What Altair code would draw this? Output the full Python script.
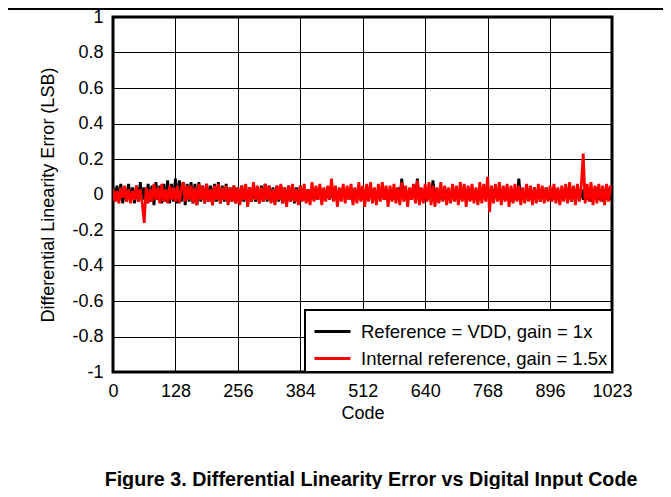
import altair as alt
import pandas as pd

# ---------------- data ----------------
codes = list(range(0, 1024, 4))

ref_vdd = [
    0.04, -0.04, 0.05, -0.03, 0.06, -0.05, 0.04, -0.04, 0.06, -0.03, 0.04, -0.05, 0.05, -0.04, 0.07, -0.03,
    0.04, -0.05, 0.06, -0.04, 0.05, -0.06, 0.07, -0.03, 0.05, -0.05, 0.06, -0.04, 0.08, -0.05, 0.06, -0.04,
    0.09, -0.05, 0.08, -0.04, 0.07, -0.06, 0.06, -0.04, 0.07, -0.05, 0.06, -0.06, 0.07, -0.04, 0.05, -0.05,
    0.06, -0.04, 0.05, -0.06, 0.06, -0.04, 0.07, -0.05, 0.05, -0.04, 0.06, -0.05, 0.04, -0.04, 0.05, -0.05,
    0.04, -0.05, 0.05, -0.04, 0.05, -0.06, 0.04, -0.04, 0.05, -0.04, 0.04, -0.05, 0.05, -0.04, 0.06, -0.04,
    0.05, -0.04, 0.04, -0.05, 0.05, -0.04, 0.05, -0.05, 0.04, -0.05, 0.05, -0.04, 0.05, -0.05, 0.04, -0.05,
    0.05, -0.03, 0.03, -0.04, 0.03, -0.03, 0.04, -0.03, 0.03, -0.03, 0.04, -0.04, 0.03, -0.03, 0.03, -0.03,
    0.04, -0.03, 0.03, -0.04, 0.03, -0.03, 0.04, -0.03, 0.03, -0.03, 0.04, -0.04, 0.03, -0.03, 0.04, -0.03,
    0.03, -0.04, 0.03, -0.03, 0.04, -0.03, 0.03, -0.04, 0.03, -0.03, 0.04, -0.03, 0.03, -0.04, 0.03, -0.03,
    0.03, -0.03, 0.04, -0.03, 0.09, -0.03, 0.03, -0.04, 0.03, -0.03, 0.04, -0.03, 0.09, -0.04, 0.03, -0.03,
    0.03, -0.03, 0.04, -0.03, 0.08, -0.03, 0.03, -0.04, 0.03, -0.03, 0.04, -0.03, 0.03, -0.04, 0.03, -0.03,
    0.03, -0.04, 0.03, -0.03, 0.04, -0.03, 0.03, -0.03, 0.04, -0.03, 0.03, -0.04, 0.03, -0.03, 0.04, -0.03,
    0.04, -0.03, 0.03, -0.03, 0.04, -0.03, 0.03, -0.04, 0.03, -0.03, 0.04, -0.03, 0.03, -0.04, 0.03, -0.03,
    0.09, -0.03, 0.03, -0.04, 0.04, -0.03, 0.03, -0.03, 0.04, -0.03, 0.03, -0.04, 0.03, -0.03, 0.04, -0.03,
    0.03, -0.03, 0.04, -0.03, 0.03, -0.04, 0.03, -0.03, 0.04, -0.03, 0.03, -0.04, 0.03, -0.03, 0.04, -0.03,
    0.03, -0.03, 0.04, -0.03, 0.03, -0.04, 0.03, -0.03, 0.04, -0.03, 0.03, -0.04, 0.03, -0.03, 0.04, -0.03,
]

internal_ref = [
    0.03, -0.04, 0.02, -0.05, 0.04, -0.02, 0.05, -0.04, 0.03, -0.05, 0.02, -0.03, 0.05, -0.04, 0.03, -0.05,
    -0.16, 0.04, -0.05, 0.03, -0.04, 0.06, -0.03, 0.04, -0.05, 0.06, -0.04, 0.03, -0.05, 0.05, -0.03, 0.04,
    -0.04, 0.05, -0.05, 0.03, 0.07, -0.04, 0.05, -0.03, 0.05, -0.05, 0.04, -0.06, 0.06, -0.03, 0.05, -0.05,
    0.06, -0.04, 0.03, -0.06, 0.05, -0.03, 0.06, -0.05, 0.04, -0.03, 0.05, -0.06, 0.04, -0.04, 0.05, -0.05,
    0.04, -0.06, 0.05, -0.03, 0.06, -0.07, 0.04, -0.04, 0.07, -0.03, 0.05, -0.05, 0.04, -0.04, 0.06, -0.03,
    0.05, -0.05, 0.03, -0.06, 0.05, -0.03, 0.06, -0.05, 0.04, -0.07, 0.05, -0.04, 0.06, -0.04, 0.03, -0.06,
    0.05, -0.04, 0.06, -0.05, 0.03, -0.06, 0.07, -0.04, 0.05, -0.03, 0.06, -0.06, 0.04, -0.04, 0.05, -0.03,
    0.09, -0.04, 0.05, -0.07, 0.04, -0.04, 0.06, -0.05, 0.05, -0.03, 0.06, -0.06, 0.04, -0.05, 0.07, -0.04,
    0.05, -0.07, 0.06, -0.04, 0.07, -0.05, 0.04, -0.06, 0.06, -0.04, 0.07, -0.03, 0.05, -0.07, 0.05, -0.04,
    0.06, -0.05, 0.04, -0.06, 0.07, -0.04, 0.05, -0.07, 0.04, -0.03, 0.06, -0.05, 0.08, -0.06, 0.04, -0.05,
    0.06, -0.04, 0.07, -0.06, 0.05, -0.07, 0.04, -0.05, 0.07, -0.04, 0.05, -0.06, 0.04, -0.05, 0.06, -0.04,
    0.05, -0.06, 0.07, -0.04, 0.06, -0.07, 0.05, -0.04, 0.06, -0.05, 0.04, -0.06, 0.07, -0.05, 0.06, -0.04,
    0.10, -0.10, 0.05, -0.05, 0.06, -0.04, 0.07, -0.06, 0.05, -0.04, 0.06, -0.07, 0.05, -0.05, 0.06, -0.04,
    0.05, -0.06, 0.04, -0.05, 0.06, -0.04, 0.05, -0.06, 0.04, -0.05, 0.06, -0.04, 0.05, -0.05, 0.04, -0.04,
    0.05, -0.04, 0.06, -0.05, 0.04, -0.06, 0.05, -0.04, 0.06, -0.05, 0.07, -0.04, 0.05, -0.06, 0.06, -0.04,
    0.05, 0.23, -0.05, 0.06, -0.04, 0.07, -0.06, 0.05, -0.05, 0.06, -0.04, 0.05, -0.06, 0.06, -0.04, 0.05,
]

series_names = ["Reference = VDD, gain = 1x", "Internal reference, gain = 1.5x"]
series_colors = ["#000000", "#ff0000"]
x_ticks = [0, 128, 256, 384, 512, 640, 768, 896, 1023]
y_ticks = [-1, -0.8, -0.6, -0.4, -0.2, 0, 0.2, 0.4, 0.6, 0.8, 1]
figure_title = "Figure 3. Differential Linearity Error vs Digital Input Code"

FONT = "Liberation Sans"

df = pd.DataFrame({
    "code": codes + codes,
    "dnl": ref_vdd + internal_ref,
    "series": [series_names[0]] * len(codes) + [series_names[1]] * len(codes),
})

color = alt.Color(
    "series:N",
    scale=alt.Scale(domain=series_names, range=series_colors),
    legend=alt.Legend(title=None),
)

base = alt.Chart(df).mark_line(strokeWidth=2.8, clip=True).encode(
    x=alt.X(
        "code:Q",
        scale=alt.Scale(domain=[0, 1023], nice=False, zero=False),
        axis=alt.Axis(
            values=x_ticks,
            title="Code",
            labelExpr="'' + datum.value",
            labelOverlap=False,
            labelFlush=False,
            labelPadding=10,
            titlePadding=4,
        ),
    ),
    y=alt.Y(
        "dnl:Q",
        scale=alt.Scale(domain=[-1, 1], nice=False),
        axis=alt.Axis(
            values=y_ticks,
            title="Differential Linearity Error (LSB)",
            labelExpr="'' + datum.value",
            labelOverlap=False,
            labelFlush=False,
            labelPadding=10,
            titlePadding=14,
        ),
    ),
    color=color,
)

black_layer = base.transform_filter(alt.datum.series == series_names[0])
red_layer = base.transform_filter(alt.datum.series == series_names[1])

title_layer = alt.Chart(pd.DataFrame({"t": [figure_title]})).mark_text(
    font=FONT, fontSize=19.7, fontWeight="bold", color="black", baseline="alphabetic", align="center"
).encode(text="t:N", x=alt.value(258), y=alt.value(469))

top_rule = alt.Chart(pd.DataFrame({"a": [0]})).mark_rule(color="black", strokeWidth=2).encode(
    x=alt.value(-105), x2=alt.value(551), y=alt.value(-8)
)

chart = (
    alt.layer(black_layer, red_layer, title_layer, top_rule)
    .properties(
        width=499,
        height=355,
        autosize=alt.AutoSizeParams(type="none"),
        padding={"left": 105, "top": 9, "right": 51, "bottom": 117},
        background="white",
    )
    .configure_view(stroke="black", strokeWidth=3)
    .configure_axis(
        grid=True,
        gridColor="black",
        gridWidth=1,
        gridOpacity=1,
        domain=False,
        ticks=False,
        labelFont=FONT,
        labelFontSize=18,
        labelColor="black",
        titleFont=FONT,
        titleFontSize=18,
        titleFontWeight="normal",
        titleColor="black",
    )
    .configure_legend(
        orient="bottom-right",
        offset=0,
        fillColor="white",
        strokeColor="black",
        strokeWidth=2,
        padding=4,
        symbolType="M-0.75,0H1.5",
        symbolSize=1024,
        symbolStrokeWidth=3,
        labelFont=FONT,
        labelFontSize=18.5,
        labelColor="black",
        labelOffset=17,
        labelLimit=0,
        rowPadding=-11,
    )
)

chart.save("out.html", embed_options={"renderer": "svg", "actions": False})
